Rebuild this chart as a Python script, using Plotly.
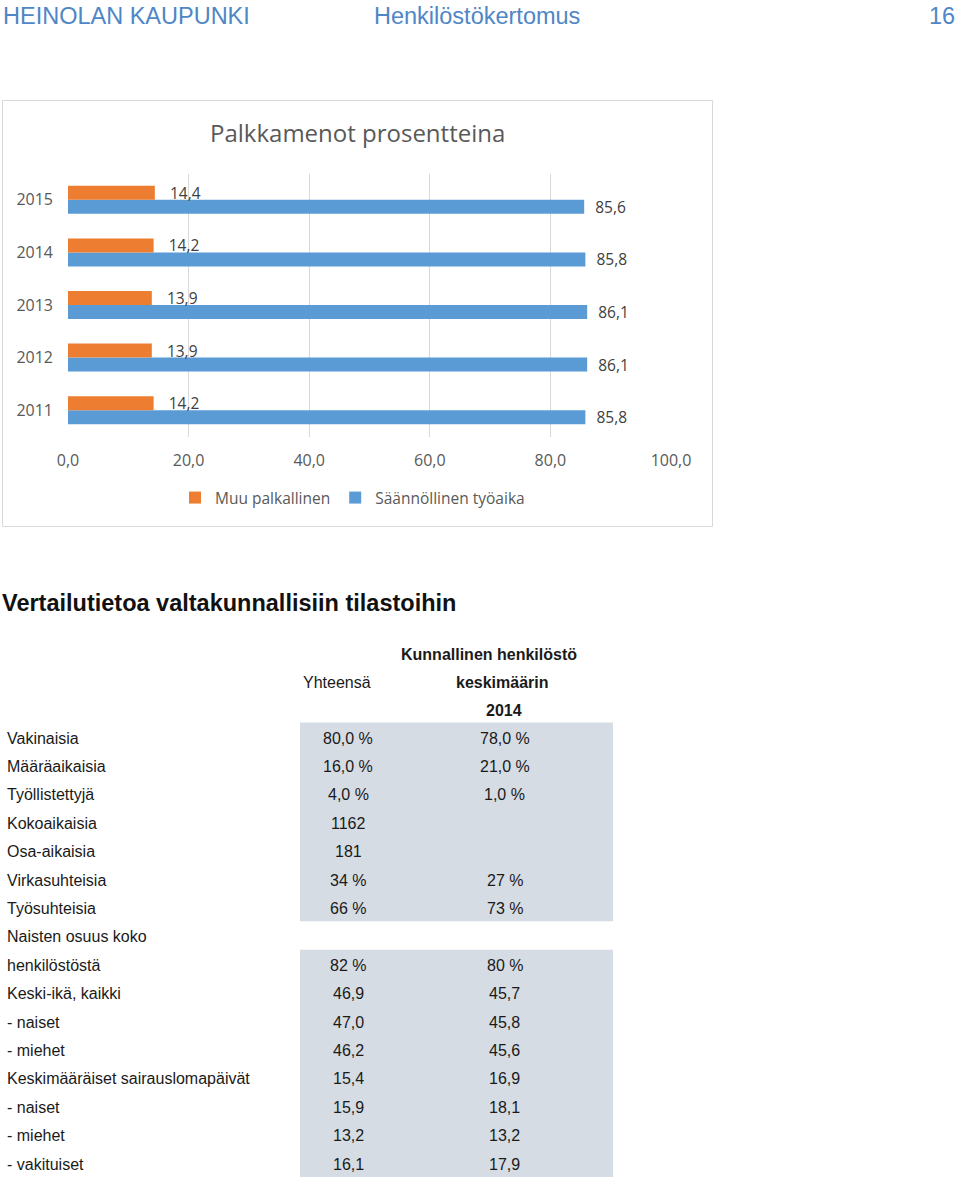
import plotly.graph_objects as go

W, H = 960, 1177

# ---------------- data ----------------
years = ["2011", "2012", "2013", "2014", "2015"]
muu_palkallinen = [14.2, 13.9, 13.9, 14.2, 14.4]
saannollinen_tyoaika = [85.8, 86.1, 86.1, 85.8, 85.6]
x_ticks = [0, 20, 40, 60, 80, 100]

row_labels = [
    "Vakinaisia", "Määräaikaisia", "Työllistettyjä", "Kokoaikaisia",
    "Osa-aikaisia", "Virkasuhteisia", "Työsuhteisia", "Naisten osuus koko",
    "henkilöstöstä", "Keski-ikä, kaikki", "- naiset", "- miehet",
    "Keskimääräiset sairauslomapäivät", "- naiset", "- miehet", "- vakituiset",
]
yhteensa = ["80,0 %", "16,0 %", "4,0 %", "1162", "181", "34 %", "66 %", "",
            "82 %", "46,9", "47,0", "46,2", "15,4", "15,9", "13,2", "16,1"]
kunnallinen = ["78,0 %", "21,0 %", "1,0 %", "", "", "27 %", "73 %", "",
               "80 %", "45,7", "45,8", "45,6", "16,9", "18,1", "13,2", "17,9"]
shaded_rows = [True] * 7 + [False] + [True] * 8


def px(x):
    return x / W


def py(y):
    return 1 - y / H


fig = go.Figure()

fig.add_trace(go.Bar(
    y=years, x=saannollinen_tyoaika, orientation="h", name="Säännöllinen työaika",
    marker=dict(color="#5B9BD5", line=dict(width=0)),
    texttemplate="\u00a0\u00a0%{x:.1f}", textposition="outside",
    textfont=dict(family="Open Sans", size=15.5, color="#404040"),
    cliponaxis=False, constraintext="none", hoverinfo="skip",
))
fig.add_trace(go.Bar(
    y=years, x=muu_palkallinen, orientation="h", name="Muu palkallinen",
    marker=dict(color="#ED7D31", line=dict(width=0)),
    texttemplate="\u00a0\u00a0\u00a0%{x:.1f}", textposition="outside",
    textfont=dict(family="Open Sans", size=15.5, color="#404040"),
    cliponaxis=False, constraintext="none", hoverinfo="skip",
))

shapes = []
annotations = []

# chart frame
shapes.append(dict(type="rect", xref="paper", yref="paper",
                   x0=px(2.5), x1=px(712.5), y0=py(100.5), y1=py(526.5),
                   line=dict(color="#d9d9d9", width=1), fillcolor="rgba(0,0,0,0)",
                   layer="below"))

# header
hdr_font = dict(family="Liberation Sans, Arial", size=23.5, color="#4f86c6")
annotations += [
    dict(text="HEINOLAN KAUPUNKI", x=px(1), y=py(16), xanchor="left", yanchor="middle",
         xref="paper", yref="paper", showarrow=False, font=hdr_font),
    dict(text="Henkilöstökertomus", x=px(372), y=py(16), xanchor="left", yanchor="middle",
         xref="paper", yref="paper", showarrow=False, font=hdr_font),
    dict(text="16", x=px(957), y=py(16), xanchor="right", yanchor="middle",
         xref="paper", yref="paper", showarrow=False, font=hdr_font),
]

# chart title
annotations.append(dict(text="Palkkamenot prosentteina", x=px(357.5), y=py(132),
                        xanchor="center", yanchor="middle", xref="paper", yref="paper",
                        showarrow=False,
                        font=dict(family="Open Sans", size=24, color="#595959")))

# table section
tfont = dict(family="Liberation Sans, Arial", size=16, color="#1a1a1a")
annotations.append(dict(text="<b>Vertailutietoa valtakunnallisiin tilastoihin</b>",
                        x=px(0), y=py(603), xanchor="left", yanchor="middle",
                        xref="paper", yref="paper", showarrow=False,
                        font=dict(family="Liberation Sans, Arial", size=23.5, color="#111111")))
annotations += [
    dict(text="<b>Kunnallinen henkilöstö</b>", x=px(489), y=py(654), font=tfont),
    dict(text="Yhteensä", x=px(337), y=py(682), font=tfont),
    dict(text="<b>keskimäärin</b>", x=px(502), y=py(682), font=tfont),
    dict(text="<b>2014</b>", x=px(504), y=py(710), font=tfont),
]
for a in annotations[-4:]:
    a.update(xanchor="center", yanchor="middle", xref="paper", yref="paper", showarrow=False)

row0, step = 738.0, 28.4
row_centers = [row0 + step * i for i in range(len(row_labels))]

# shaded blocks: merge contiguous shaded rows into one rectangle
runs = []
start = None
for i, s in enumerate(shaded_rows + [False]):
    if s and start is None:
        start = i
    elif not s and start is not None:
        runs.append((start, i - 1))
        start = None
for a_i, b_i in runs:
    top = row_centers[a_i] - 15.5
    bot = H if b_i == len(row_labels) - 1 else row_centers[b_i] + 12.9
    shapes.append(dict(type="rect", xref="paper", yref="paper",
                       x0=px(300), x1=px(613), y0=py(bot), y1=py(top),
                       line=dict(width=0), fillcolor="#d6dce4", layer="below"))

for i, lab in enumerate(row_labels):
    yc = row_centers[i]
    annotations.append(dict(text=lab, x=px(4.5), y=py(yc), xanchor="left", yanchor="middle",
                            xref="paper", yref="paper", showarrow=False, font=tfont))
    if yhteensa[i]:
        annotations.append(dict(text=yhteensa[i], x=px(348), y=py(yc), xanchor="center",
                                yanchor="middle", xref="paper", yref="paper",
                                showarrow=False, font=tfont))
    if kunnallinen[i]:
        annotations.append(dict(text=kunnallinen[i], x=px(505), y=py(yc), xanchor="center",
                                yanchor="middle", xref="paper", yref="paper",
                                showarrow=False, font=tfont))

fig.update_layout(
    width=W, height=H, autosize=False,
    margin=dict(l=0, r=0, t=0, b=0, pad=0, autoexpand=False),
    paper_bgcolor="white", plot_bgcolor="white",
    separators=", ",
    barmode="group", bargap=0.467, bargroupgap=0,
    font=dict(family="Open Sans", color="#595959"),
    showlegend=True,
    legend=dict(orientation="h", traceorder="reversed", x=px(175), y=py(498),
                xanchor="left", yanchor="middle", bgcolor="rgba(0,0,0,0)",
                font=dict(family="Open Sans", size=15.5, color="#595959"),
                itemclick=False, itemdoubleclick=False),
    xaxis=dict(domain=[px(68), px(671)], range=[0, 100], tickvals=x_ticks,
               tickformat=".1f", showgrid=True, gridcolor="#d9d9d9", gridwidth=1,
               zeroline=False, showline=False, ticks="", ticklabelstandoff=12,
               tickfont=dict(family="Open Sans", size=16, color="#595959"),
               automargin=False, fixedrange=True),
    yaxis=dict(domain=[py(436.5), py(173.5)], type="category",
               categoryorder="array", categoryarray=years,
               showgrid=False, zeroline=False, showline=False, ticks="",
               ticklabelstandoff=14, automargin=False,
               tickfont=dict(family="Open Sans", size=16, color="#595959"),
               fixedrange=True),
    shapes=shapes,
    annotations=annotations,
)

fig.write_html("out.html", config={"displayModeBar": False},
               post_script="document.body.style.margin='0';")
